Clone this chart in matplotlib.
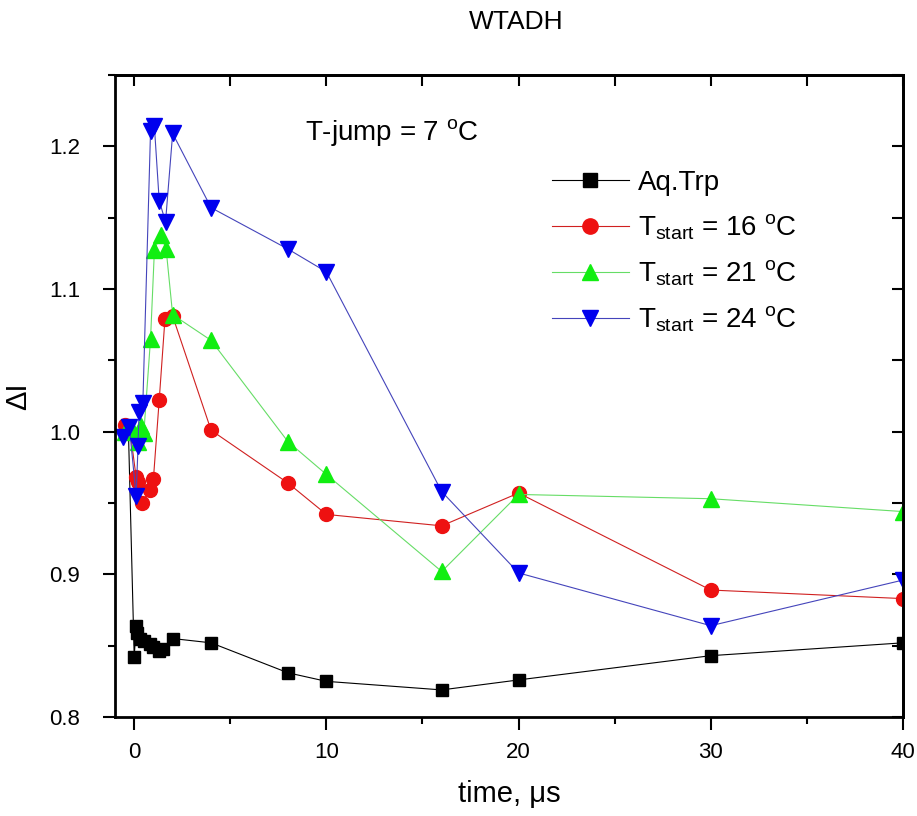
import matplotlib
matplotlib.use("Agg")
import matplotlib.pyplot as plt
from matplotlib.ticker import MultipleLocator

plt.rcParams["font.family"] = ["Liberation Sans", "DejaVu Sans"]
plt.rcParams["mathtext.fontset"] = "custom"
plt.rcParams["mathtext.rm"] = "Liberation Sans"
plt.rcParams["mathtext.it"] = "Liberation Sans:italic"

# Aq.Trp (black squares)
t_trp = [-0.3, 0.0, 0.1, 0.15, 0.3, 0.5, 0.8, 1.0, 1.3, 1.5, 2.0, 4, 8, 10, 16, 20, 30, 40]
i_trp = [1.000, 0.842, 0.864, 0.859, 0.855, 0.853, 0.851, 0.849, 0.846, 0.848, 0.855,
         0.852, 0.831, 0.825, 0.819, 0.826, 0.843, 0.852]

# T_start = 16 C (red circles)
t_16 = [-0.5, -0.2, 0.1, 0.2, 0.4, 0.8, 1.0, 1.3, 1.6, 2.0, 4, 8, 10, 16, 20, 30, 40]
i_16 = [1.005, 0.999, 0.968, 0.965, 0.950, 0.959, 0.967, 1.022, 1.079, 1.081,
        1.001, 0.964, 0.942, 0.934, 0.957, 0.889, 0.883]

# T_start = 21 C (green triangles)
t_21 = [-0.5, -0.1, 0.2, 0.35, 0.5, 0.85, 1.05, 1.37, 1.66, 2.0, 4, 8, 10, 16, 20, 30, 40]
i_21 = [1.000, 1.002, 0.993, 1.004, 0.999, 1.065, 1.127, 1.138, 1.128, 1.082,
        1.064, 0.993, 0.970, 0.902, 0.956, 0.953, 0.944]

# T_start = 24 C (blue down triangles)
t_24 = [-0.6, -0.25, 0.1, 0.2, 0.25, 0.45, 0.85, 1.05, 1.3, 1.63, 2.0, 4, 8, 10, 16, 20, 30, 40]
i_24 = [0.996, 1.003, 0.955, 0.990, 1.014, 1.020, 1.211, 1.214, 1.162, 1.147, 1.209,
        1.157, 1.128, 1.112, 0.958, 0.901, 0.864, 0.896]

fig = plt.figure(figsize=(9.17, 8.16), dpi=100)
ax = fig.add_axes([0.1254, 0.1213, 0.8593, 0.7868])

ms = 10
ax.plot(t_trp, i_trp, "-", color="black", lw=0.8, marker="s", ms=ms - 1,
        mfc="black", mec="black", label="Aq.Trp")
ax.plot(t_16, i_16, "-", color="#d02020", lw=0.8, marker="o", ms=ms,
        mfc="#ee1111", mec="#ee1111", label=r"T$_{\mathrm{start}}$ = 16 $^{\mathrm{o}}$C")
ax.plot(t_21, i_21, "-", color="#66dd66", lw=0.8, marker="^", ms=ms + 1,
        mfc="#11ee11", mec="#11ee11", label=r"T$_{\mathrm{start}}$ = 21 $^{\mathrm{o}}$C")
ax.plot(t_24, i_24, "-", color="#4444bb", lw=0.8, marker="v", ms=ms + 1,
        mfc="#0000ee", mec="#0000ee", label=r"T$_{\mathrm{start}}$ = 24 $^{\mathrm{o}}$C")

ax.set_xlim(-1, 40)
ax.set_ylim(0.8, 1.25)

ax.xaxis.set_major_locator(MultipleLocator(10))
ax.xaxis.set_minor_locator(MultipleLocator(5))
ax.yaxis.set_major_locator(MultipleLocator(0.1))
ax.yaxis.set_minor_locator(MultipleLocator(0.05))
ax.tick_params(axis="both", which="major", direction="out", length=9, width=1.5,
               labelsize=16)
ax.tick_params(axis="x", which="major", pad=9)
ax.tick_params(axis="y", which="major", pad=16)
ax.tick_params(axis="both", which="minor", direction="out", length=5, width=1.5)

# mirrored top/right ticks point inward
sec_x = ax.secondary_xaxis("top")
sec_x.xaxis.set_major_locator(MultipleLocator(5))
sec_x.tick_params(direction="in", length=8, width=1.5, labeltop=False)
sec_y = ax.secondary_yaxis("right")
sec_y.yaxis.set_major_locator(MultipleLocator(0.05))
sec_y.tick_params(direction="in", length=8, width=1.5, labelright=False)
for s in ax.spines.values():
    s.set_linewidth(2)
sec_x.spines["top"].set_linewidth(2)
sec_y.spines["right"].set_linewidth(2)

ax.set_yticklabels([f"{v:.1f}" for v in ax.get_yticks()])

ax.set_xlabel("time, \u03bcs", fontsize=21, labelpad=12)
ax.set_ylabel("\u0394I", fontsize=21, labelpad=12)
fig.text(0.563, 0.973, "WTADH", fontsize=19, ha="center", va="center")

ax.text(0.241, 0.911, r"T-jump = 7 $^{\mathrm{o}}$C", transform=ax.transAxes,
        fontsize=20, va="center")

leg = ax.legend(loc="upper left", bbox_to_anchor=(0.54, 0.87), frameon=False,
                prop={"size": 20}, handlelength=2.8, markerscale=1.1,
                labelspacing=0.6, handletextpad=0.3, borderaxespad=0)

fig.savefig("out.png", dpi=100)
